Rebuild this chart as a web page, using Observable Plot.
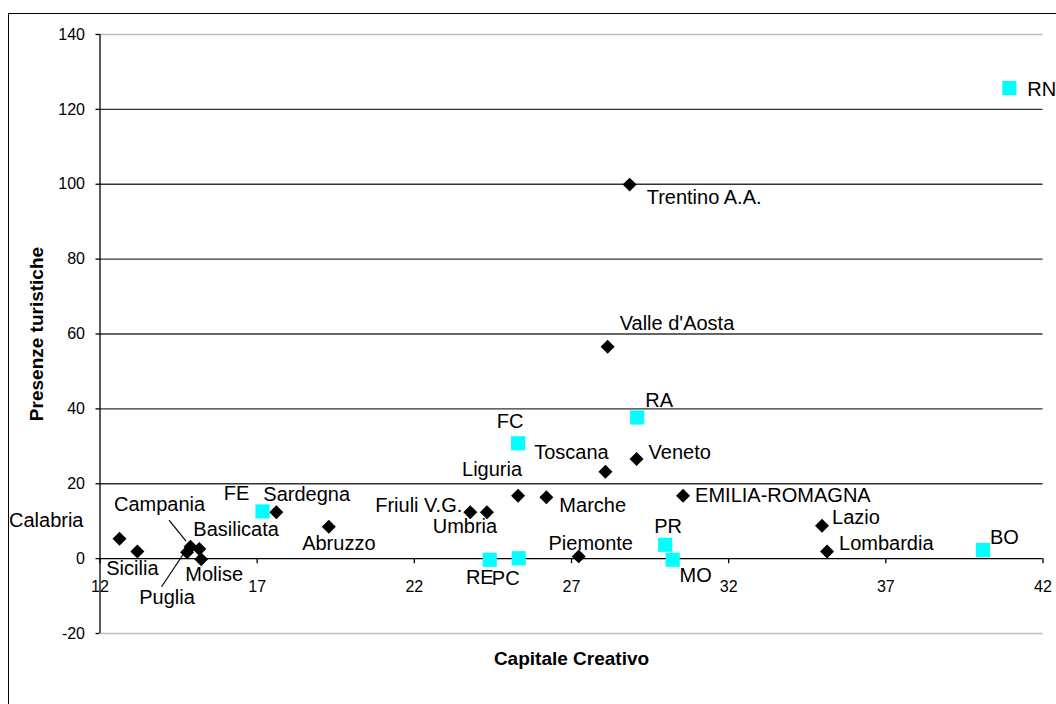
<!DOCTYPE html>
<html>
<head>
<meta charset="utf-8">
<script src="https://cdn.jsdelivr.net/npm/d3@7"></script>
<script src="https://cdn.jsdelivr.net/npm/@observablehq/plot@0.6"></script>
<style>
  html, body { margin: 0; padding: 0; background: #fff; overflow: hidden; }
  #wrap { position: relative; width: 1056px; height: 704px; overflow: hidden; }
  #frame { position: absolute; left: 8px; top: 13px; width: 1200px; height: 900px; border: 1.5px solid #000; box-sizing: border-box; }
  #chart { position: absolute; left: 0; top: 0; }
</style>
</head>
<body>
<div id="wrap"><div id="frame"></div><div id="chart"></div></div>
<script>
// Regions (black diamonds)
const regionNames = ["Calabria","Sicilia","Campania","Puglia","Basilicata","Molise","Sardegna","Abruzzo","Friuli V.G.","Umbria","Liguria","Marche","Toscana","Veneto","Piemonte","EMILIA-ROMAGNA","Lazio","Lombardia","Trentino A.A.","Valle d'Aosta"];
const regionCapitale = [12.62,13.19,14.88,14.77,15.16,15.22,17.61,19.28,23.78,24.31,25.30,26.20,28.08,29.07,27.23,30.55,34.97,35.13,28.85,28.15];
const regionPresenze = [5.3,1.9,3.2,1.7,2.6,-0.2,12.4,8.5,12.4,12.4,16.8,16.4,23.2,26.6,0.6,16.8,8.8,1.9,99.9,56.6];

// Emilia-Romagna provinces (cyan squares)
const provNames = ["RN","RA","FC","FE","RE","PC","PR","MO","BO"];
const provCapitale = [40.93,29.09,25.30,17.17,24.40,25.32,29.98,30.22,40.09];
const provPresenze = [125.7,37.7,30.8,12.6,-0.3,0.1,3.7,-0.3,2.3];

const xTicks = [12,17,22,27,32,37,42];
const yTicks = [-20,0,20,40,60,80,100,120,140];
const gridTicks = [20,40,60,80,100,120];
const xTitle = "Capitale Creativo";
const yTitle = "Presenze turistiche";

// label placement (anchor, dx, dy in px) — styling only
const labelPlacement = {
  "Calabria": ["end",-36,-18], "Sicilia": ["middle",-5,17], "Campania": ["middle",-31,-42],
  "Puglia": ["middle",-20,45], "Basilicata": ["start",-6,-19], "Molise": ["middle",13,15],
  "Sardegna": ["start",-13,-18], "Abruzzo": ["middle",10,17], "Friuli V.G.": ["end",-8,-7],
  "Umbria": ["middle",-22,14], "Liguria": ["middle",-26,-26], "Marche": ["start",13,8],
  "Toscana": ["middle",-34,-19], "Veneto": ["start",12,-6], "Piemonte": ["middle",12,-13],
  "EMILIA-ROMAGNA": ["start",12,0], "Lazio": ["start",10,-8], "Lombardia": ["start",12,-8],
  "Trentino A.A.": ["start",17,13], "Valle d'Aosta": ["start",12,-23],
  "RN": ["start",18,2], "RA": ["middle",22,-17], "FC": ["middle",-8,-22], "FE": ["middle",-26,-18],
  "RE": ["middle",-10,18], "PC": ["middle",-13,20], "PR": ["middle",3,-18], "MO": ["middle",23,16],
  "BO": ["start",7,-12]
};
// leader lines: [name, dx1, dy1, dx2, dy2] relative to the point, px
const leaders = [["Campania",-21,-26,-4,-5],["Puglia",-25,35,-3,2]];

const regions = regionNames.map((n,i) => ({name:n, x:regionCapitale[i], y:regionPresenze[i]}));
const provs = provNames.map((n,i) => ({name:n, x:provCapitale[i], y:provPresenze[i]}));
const all = [...regions, ...provs];

const FONT = "'Liberation Sans', Arial, Helvetica, sans-serif";

const labelMarks = all.map(d => {
  const [anchor, dx, dy] = labelPlacement[d.name];
  return Plot.text([d], {x:"x", y:"y", text:"name", textAnchor:anchor, dx, dy, fontSize:20, fill:"#000"});
});

const leaderMark = (index, scales) => {
  const g = document.createElementNS("http://www.w3.org/2000/svg","g");
  for (const [name, dx1, dy1, dx2, dy2] of leaders) {
    const d = all.find(p => p.name === name);
    const px = scales.x(d.x), py = scales.y(d.y);
    const l = document.createElementNS("http://www.w3.org/2000/svg","line");
    l.setAttribute("x1", px+dx1); l.setAttribute("y1", py+dy1);
    l.setAttribute("x2", px+dx2); l.setAttribute("y2", py+dy2);
    l.setAttribute("stroke","#000"); l.setAttribute("stroke-width","1.2");
    g.appendChild(l);
  }
  return g;
};

const chart = Plot.plot({
  width: 1056,
  height: 704,
  marginLeft: 99.5,
  marginRight: 13.5,
  marginTop: 34,
  marginBottom: 71,
  style: {fontFamily: FONT, background: "transparent", overflow: "visible"},
  x: {domain: [12,42], axis: null},
  y: {domain: [-20,140], axis: null},
  marks: [
    Plot.ruleY([140,-20], {stroke:"#bdbdbd", strokeWidth:1.3}),
    Plot.ruleY(gridTicks, {stroke:"#333", strokeWidth:1.3}),
    Plot.ruleX([12], {stroke:"#000", strokeWidth:1.3}),
    Plot.ruleY([0], {stroke:"#000", strokeWidth:1.3}),
    Plot.ruleY(yTicks, {y:d=>d, x1:()=>12, x2:()=>12, insetLeft:-4, stroke:"#000", strokeWidth:1.3}),
    Plot.ruleX(xTicks, {x:d=>d, y1:()=>0, y2:()=>0, insetBottom:-5, stroke:"#000", strokeWidth:1.3}),
    Plot.text(yTicks, {x:()=>12, y:d=>d, text:d=>String(d), textAnchor:"end", dx:-15, fontSize:16, fill:"#000"}),
    Plot.text(xTicks, {x:d=>d, y:()=>0, text:d=>String(d), dy:28, fontSize:16, fill:"#000"}),
    Plot.text([xTitle], {frameAnchor:"bottom", text:d=>d, dy:31, fontSize:19, fontWeight:"bold", fill:"#000"}),
    Plot.text([yTitle], {frameAnchor:"left", textAnchor:"middle", text:d=>d, dx:-63, rotate:-90, fontSize:19, fontWeight:"bold", fill:"#000"}),
    Plot.dot(regions, {x:"x", y:"y", symbol:"diamond2", r:6.3, fill:"#000", stroke:"none"}),
    Plot.dot(provs, {x:"x", y:"y", symbol:"square", r:8, fill:"#00ffff", stroke:"none"}),
    leaderMark,
    ...labelMarks
  ]
});
document.getElementById("chart").appendChild(chart);
</script>
</body>
</html>
